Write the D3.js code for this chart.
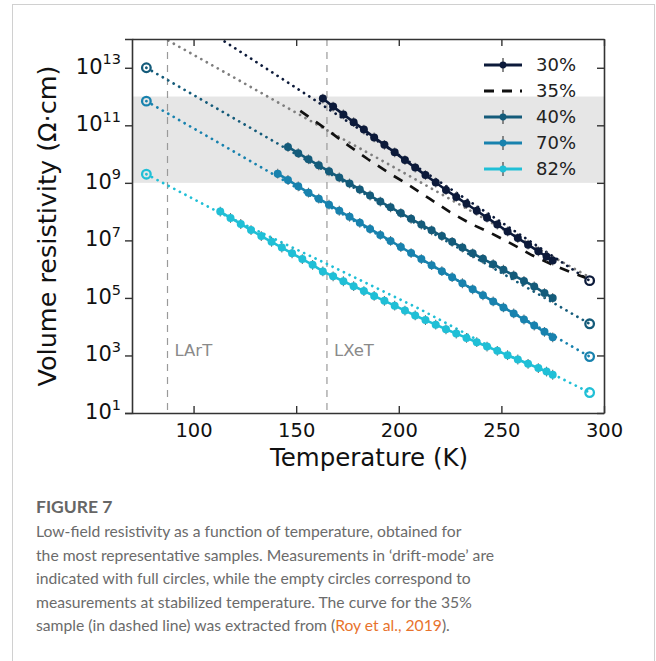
<!DOCTYPE html>
<html>
<head>
<meta charset="utf-8">
<script src="https://cdn.jsdelivr.net/npm/d3@7"></script>
<style>
  body { margin: 0; background: #fff; }
  svg { display: block; }
  .tick text { font-family: "DejaVu Sans", sans-serif; fill: #111; }
  .caption { font-family: Lato, "Open Sans", sans-serif; fill: #6b6b6b; }
</style>
</head>
<body>
<svg width="656" height="661"></svg>
<script>
// values are log10 of volume resistivity (ohm*cm), temperatures in K
const t30 = [163, 168, 173, 178, 183, 188, 193, 198, 203, 208, 213, 218, 223, 228, 233, 238, 243, 248, 253, 258, 263, 268, 272, 275];
const v30 = [11.93, 11.65, 11.38, 11.11, 10.85, 10.58, 10.32, 10.06, 9.79, 9.53, 9.27, 9.01, 8.75, 8.51, 8.27, 8.03, 7.79, 7.55, 7.31, 7.08, 6.85, 6.62, 6.44, 6.30];
const t40 = [146, 151, 156, 161, 166, 171, 176, 181, 186, 191, 196, 201, 206, 211, 216, 221, 226, 231, 236, 241, 246, 251, 256, 261, 266, 271, 275];
const v40 = [10.25, 10.03, 9.82, 9.61, 9.40, 9.19, 8.98, 8.77, 8.56, 8.35, 8.15, 7.95, 7.75, 7.55, 7.35, 7.15, 6.95, 6.75, 6.55, 6.36, 6.17, 5.98, 5.78, 5.59, 5.40, 5.17, 5.00];
const t70 = [141, 146, 151, 156, 161, 166, 171, 176, 181, 186, 191, 196, 201, 206, 211, 216, 221, 226, 231, 236, 241, 246, 251, 256, 261, 266, 271, 275];
const v70 = [9.32, 9.10, 8.88, 8.66, 8.45, 8.24, 8.03, 7.82, 7.61, 7.40, 7.19, 6.98, 6.77, 6.56, 6.35, 6.14, 5.93, 5.72, 5.51, 5.30, 5.09, 4.88, 4.67, 4.46, 4.25, 4.04, 3.82, 3.63];
const t82 = [113, 118, 123, 128, 133, 138, 143, 148, 153, 158, 163, 168, 173, 178, 183, 188, 193, 198, 203, 208, 213, 218, 223, 228, 233, 238, 243, 248, 253, 258, 263, 268, 272, 275];
const v82 = [8.00, 7.78, 7.57, 7.36, 7.15, 6.95, 6.75, 6.55, 6.35, 6.15, 5.92, 5.75, 5.58, 5.41, 5.24, 5.07, 4.90, 4.73, 4.56, 4.39, 4.23, 4.07, 3.91, 3.76, 3.61, 3.46, 3.31, 3.16, 3.01, 2.86, 2.71, 2.56, 2.44, 2.33];

// 35% curve (Roy et al.) - dashed
const t35 = [152, 160, 165, 175, 185, 195, 205, 215, 225, 235, 245, 255, 265, 275, 285, 291];
const v35 = [11.50, 11.10, 10.85, 10.32, 9.82, 9.35, 8.92, 8.45, 7.98, 7.58, 7.25, 6.88, 6.48, 6.15, 5.86, 5.70];

// dotted fit lines
const fit30T = [110, 150, 200, 250, 275, 293];
const fit30V = [14.15, 12.30, 9.97, 7.63, 6.45, 5.60];
const fit35T = [85, 120, 165, 200, 250, 293];
const fit35V = [14.05, 12.65, 10.83, 9.45, 7.42, 5.72];
const fit40T = [77, 293];
const fit40V = [13.0, 4.1];
const fit70T = [77, 293];
const fit70V = [11.84, 2.96];
const fit82T = [77, 113, 165, 210, 250, 275, 293];
const fit82V = [9.30, 7.95, 6.18, 4.62, 3.10, 2.35, 1.71];

// stabilized temperature (empty circles)
const open30 = [[293, 5.60]];
const open40 = [[77, 13.0], [293, 4.10]];
const open70 = [[77, 11.84], [293, 2.96]];
const open82 = [[77, 9.30], [293, 1.71]];

const errDec = 0.17;
const band = [9, 12];
const refT = [87.3, 165];
const refLabels = ['LArT', 'LXeT'];
const xTicks = [100, 150, 200, 250, 300];
const yExps = [1, 3, 5, 7, 9, 11, 13];
const legendLabels = ['30%', '35%', '40%', '70%', '82%'];

const colors = { c30: '#0c1a3a', c35: '#111111', c40: '#145b7a', c70: '#1882ae', c82: '#20bfd6', fit: '#7f7f7f' };

const svg = d3.select('svg');
const margin = { left: 132, right: 52, top: 39, bottom: 248 };
const W = 656, H = 661;
const iw = W - margin.left - margin.right;
const ih = H - margin.top - margin.bottom;

// frame
svg.append('rect').attr('x', 12.5).attr('y', 4.5).attr('width', 642).attr('height', 670)
  .attr('fill', 'none').attr('stroke', '#d0d0d0').attr('stroke-width', 1);

const x = d3.scaleLinear().domain([70, 300]).range([0, iw]);
const y = d3.scaleLog().domain([1e1, 1e14]).range([ih, 0]);
const P = (t, v) => [x(t), y(Math.pow(10, v))];

const g = svg.append('g').attr('transform', `translate(${margin.left},${margin.top})`);
svg.append('defs').append('clipPath').attr('id', 'clip')
  .append('rect').attr('width', iw).attr('height', ih);
const plot = g.append('g').attr('clip-path', 'url(#clip)');

plot.append('rect')
  .attr('x', 0).attr('width', iw)
  .attr('y', y(Math.pow(10, band[1])))
  .attr('height', y(Math.pow(10, band[0])) - y(Math.pow(10, band[1])))
  .attr('fill', '#e6e6e6');

refT.forEach((t, i) => {
  plot.append('line').attr('x1', x(t)).attr('x2', x(t)).attr('y1', 0).attr('y2', ih)
    .attr('stroke', '#9a9a9a').attr('stroke-width', 1.2).attr('stroke-dasharray', '7,6');
  g.append('text').attr('x', x(t) + 7).attr('y', y(1e3) + 1)
    .attr('font-family', 'DejaVu Sans').attr('font-size', 16.5).attr('fill', '#8a8a8a')
    .text(refLabels[i]);
});

const line = d3.line();
function dotted(ts, vs, color) {
  plot.append('path').attr('d', line(ts.map((t, i) => P(t, vs[i]))))
    .attr('fill', 'none').attr('stroke', color).attr('stroke-width', 2.7)
    .attr('stroke-linecap', 'round').attr('stroke-dasharray', '0.1,6.2');
}
dotted(fit35T, fit35V, colors.fit);
dotted(fit30T, fit30V, colors.c30);
dotted(fit40T, fit40V, colors.c40);
dotted(fit70T, fit70V, colors.c70);
dotted(fit82T, fit82V, colors.c82);

plot.append('path').attr('d', line(t35.map((t, i) => P(t, v35[i]))))
  .attr('fill', 'none').attr('stroke', colors.c35).attr('stroke-width', 2.7)
  .attr('stroke-dasharray', '10,9');

function drift(ts, vs, color) {
  const pts = ts.map((t, i) => ({ t, v: vs[i] }));
  plot.selectAll(null).data(pts).enter().append('line')
    .attr('x1', d => x(d.t)).attr('x2', d => x(d.t))
    .attr('y1', d => y(Math.pow(10, d.v + errDec))).attr('y2', d => y(Math.pow(10, d.v - errDec)))
    .attr('stroke', '#6e6e6e').attr('stroke-width', 1.1);
  plot.append('path').attr('d', line(pts.map(d => P(d.t, d.v))))
    .attr('fill', 'none').attr('stroke', color).attr('stroke-width', 2.6);
  plot.selectAll(null).data(pts).enter().append('circle')
    .attr('cx', d => x(d.t)).attr('cy', d => y(Math.pow(10, d.v))).attr('r', 4)
    .attr('fill', color);
}
drift(t82, v82, colors.c82);
drift(t70, v70, colors.c70);
drift(t40, v40, colors.c40);
drift(t30, v30, colors.c30);

function empty(list, color) {
  plot.selectAll(null).data(list).enter().append('circle')
    .attr('cx', d => x(d[0])).attr('cy', d => y(Math.pow(10, d[1]))).attr('r', 4.3)
    .attr('fill', 'none').attr('stroke', color).attr('stroke-width', 2.3);
}
empty(open30, colors.c30);
empty(open40, colors.c40);
empty(open70, colors.c70);
empty(open82, colors.c82);

// axes
const xAxis = d3.axisBottom(x).tickValues(xTicks).tickSizeInner(-7).tickSizeOuter(0).tickPadding(10);
const gx = g.append('g').attr('transform', `translate(0,${ih})`).call(xAxis);
gx.selectAll('text').attr('font-size', 19.5);

const yAxis = d3.axisLeft(y).tickValues(yExps.map(e => Math.pow(10, e))).tickSizeOuter(0).tickSize(7).tickPadding(4).tickFormat('');
const gy = g.append('g').call(yAxis);
gy.selectAll('.tick text').each(function (d) {
  const t = d3.select(this);
  t.append('tspan').attr('font-size', 21).text('10');
  t.append('tspan').attr('font-size', 14.5).attr('dy', '-0.65em').text(Math.round(Math.log10(d)));
});
gy.selectAll('.tick text').attr('dy', '0.55em');

g.append('g').attr('transform', `translate(${iw},0)`)
  .call(d3.axisRight(y).tickValues(yExps.map(e => Math.pow(10, e))).tickSize(-7).tickSizeOuter(0).tickFormat(''));
g.append('g')
  .call(d3.axisTop(x).tickValues(xTicks).tickSize(-7).tickSizeOuter(0).tickFormat(''));

g.selectAll('.domain').attr('stroke', '#333').attr('stroke-width', 1.6);
g.selectAll('.tick line').attr('stroke', '#333').attr('stroke-width', 1.4);

g.append('text').attr('x', iw / 2 + 1).attr('y', ih + 53).attr('text-anchor', 'middle')
  .attr('font-family', 'DejaVu Sans').attr('font-size', 24.5).attr('fill', '#111')
  .text('Temperature (K)');
g.append('text').attr('transform', `translate(-76,${ih / 2}) rotate(-90)`).attr('text-anchor', 'middle')
  .attr('font-family', 'DejaVu Sans').attr('font-size', 25.5).attr('fill', '#111')
  .text('Volume resistivity (Ω·cm)');

// legend
const legColors = [colors.c30, colors.c35, colors.c40, colors.c70, colors.c82];
const leg = g.append('g').attr('transform', `translate(${iw - 120},26)`);
legendLabels.forEach((lab, i) => {
  const row = leg.append('g').attr('transform', `translate(0,${i * 26})`);
  if (i === 1) {
    row.append('line').attr('x1', 0).attr('x2', 38).attr('stroke', legColors[i])
      .attr('stroke-width', 2.8).attr('stroke-dasharray', '10,8');
  } else {
    row.append('line').attr('x1', 19).attr('x2', 19).attr('y1', -7).attr('y2', 7)
      .attr('stroke', '#6e6e6e').attr('stroke-width', 1.6);
    row.append('line').attr('x1', 0).attr('x2', 38).attr('stroke', legColors[i]).attr('stroke-width', 2.8);
    row.append('circle').attr('cx', 19).attr('r', 3.4).attr('fill', legColors[i]);
  }
  row.append('text').attr('x', 52).attr('dy', '0.36em')
    .attr('font-family', 'DejaVu Sans').attr('font-size', 18).attr('fill', '#222').text(lab);
});

// caption
const cap = svg.append('g').attr('class', 'caption');
cap.append('text').attr('x', 36).attr('y', 513).attr('font-size', 17.5).attr('font-weight', 'bold')
  .attr('fill', '#666').text('FIGURE 7');
const capLines = [
  'Low-field resistivity as a function of temperature, obtained for',
  'the most representative samples. Measurements in \u2018drift-mode\u2019 are',
  'indicated with full circles, while the empty circles correspond to',
  'measurements at stabilized temperature. The curve for the 35%'
];
capLines.forEach((s, i) => {
  cap.append('text').attr('x', 36).attr('y', 537 + i * 23.6).attr('font-size', 15.7).text(s);
});
const last = cap.append('text').attr('x', 36).attr('y', 537 + 4 * 23.6).attr('font-size', 15.7);
last.append('tspan').text('sample (in dashed line) was extracted from (');
last.append('tspan').attr('fill', '#e8732c').text('Roy et al., 2019');
last.append('tspan').text(').');
</script>
</body>
</html>
